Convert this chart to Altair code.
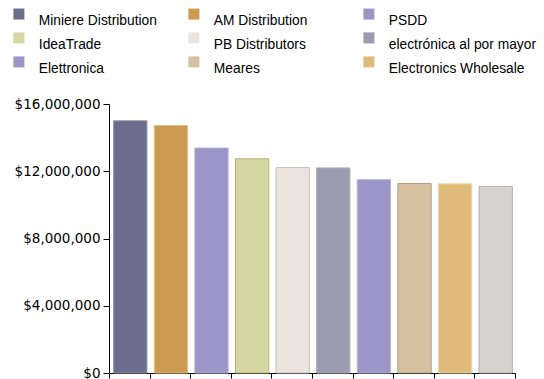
import altair as alt
import pandas as pd

categories = [
    "Miniere Distribution", "AM Distribution", "PSDD", "IdeaTrade",
    "PB Distributors", "electrónica al por mayor", "Elettronica",
    "Meares", "Electronics Wholesale", "Other",
]
sales = [15000000, 14720000, 13380000, 12740000, 12220000,
         12200000, 11500000, 11270000, 11250000, 11100000]
fill_colors = ["#6b6d8c", "#cd9b50", "#9c95c8", "#d6d6a2", "#ede3de",
               "#9c9aae", "#9c95c8", "#d6c2a0", "#e0ba78", "#d6d3ce"]
stroke_colors = ["#9092ad", "#e3c285", "#b8b2dc", "#b3b37d", "#cbbfbb",
                 "#b2b0c3", "#b8b2dc", "#b09e80", "#f0d6a6", "#b3b0ab"]
legend_entries = categories[:9]
y_ticks = [0, 4000000, 8000000, 12000000, 16000000]

df = pd.DataFrame({"Reseller": categories, "Sales": sales})

bars = alt.Chart(df).mark_bar(width=alt.RelativeBandSize(0.82), strokeWidth=1, xOffset=1).encode(
    x=alt.X("Reseller:N", sort=categories,
            scale=alt.Scale(paddingInner=0, paddingOuter=0),
            axis=alt.Axis(title=None, labels=False, tickBand="extent", tickSize=5,
                          domainColor="black", tickColor="black", grid=False)),
    y=alt.Y("Sales:Q", scale=alt.Scale(domain=[0, 16000000], nice=False),
            axis=alt.Axis(title=None, values=y_ticks, format="$,.0f", tickSize=6,
                          labelPadding=3, labelFont="DejaVu Sans", labelFontSize=13.5,
                          labelColor="black", domainColor="black", tickColor="black",
                          grid=False)),
    fill=alt.Fill("Reseller:N",
                  scale=alt.Scale(domain=categories, range=fill_colors),
                  legend=alt.Legend(title=None, values=legend_entries, columns=3,
                                    direction="horizontal",
                                    orient="none", legendX=-97, legendY=-97,
                                    gridAlign="all", columnPadding=-9, rowPadding=3,
                                    symbolType="square", symbolSize=121,
                                    symbolStrokeWidth=0, labelOffset=13,
                                    labelBaseline="top",
                                    labelFont="Liberation Sans",
                                    labelFontSize=13.8,
                                    labelColor="black", labelLimit=300, padding=0)),
    stroke=alt.Stroke("Reseller:N",
                      scale=alt.Scale(domain=categories, range=stroke_colors),
                      legend=None),
)

chart = bars.properties(
    width=406, height=269, background="white",
    padding={"left": 109, "top": 104, "right": 29, "bottom": 6},
    autosize=alt.AutoSizeParams(type="none"),
).configure_view(stroke=None)

chart.save("out.html", embed_options={"renderer": "svg", "actions": False})
